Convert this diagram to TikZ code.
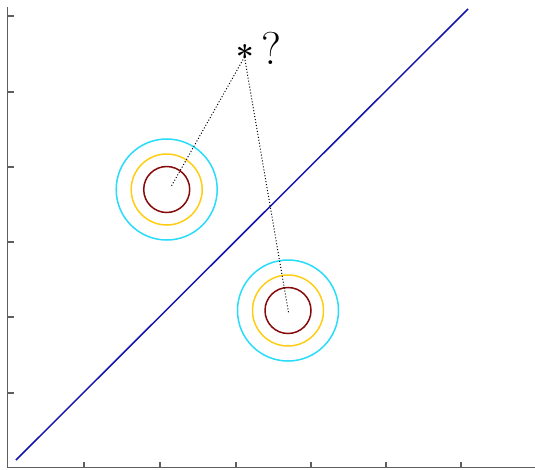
\documentclass[tikz,border=0pt]{standalone}
\usepackage{tikz}
\usetikzlibrary{positioning}
\definecolor{axisgrey}{RGB}{95,95,95}
\definecolor{lineblue}{RGB}{20,20,170}
\definecolor{ringcyan}{RGB}{40,220,250}
\definecolor{ringyellow}{RGB}{255,205,20}
\definecolor{ringred}{RGB}{135,10,10}

\begin{document}
\begin{tikzpicture}[
  x=1pt, y=-1pt,
  axis/.style={axisgrey, line width=1.5pt},
  sep/.style={lineblue, line width=1.5pt},
  ringA/.style={ringred, line width=1.5pt},
  ringB/.style={ringyellow, line width=1.5pt},
  ringC/.style={ringcyan, line width=1.5pt},
  link/.style={black, dotted, line width=1pt},
  querymark/.style={inner sep=0pt, font=\fontsize{32}{32}\selectfont\bfseries},
]
  \useasboundingbox (0,0) rectangle (535,469);

  % axes
  \draw[axis] (7.5,7) -- (7.5,467.5) -- (535,467.5);
  \foreach \yy in {16,92,167,242,317,393}
    \draw[axis] (7.5,\yy) -- ++(6,0);
  \foreach \xx in {84,160,236,311,386,461}
    \draw[axis] (\xx,467.5) -- ++(0,-6);

  % separating line
  \draw[sep] (16,460) -- (468,9);

  % two classes
  \coordinate (cA) at (166.7,189.5);
  \coordinate (cB) at (288,310.5);
  \foreach \c in {cA,cB} {
    \draw[ringC] (\c) circle (50.5);
    \draw[ringB] (\c) circle (35.5);
    \draw[ringA] (\c) circle (23);
  }

  % query point
  \node[querymark, anchor=north] (query) at (245,44) {*};
  \node[querymark, font=\fontsize{46}{46}\selectfont, anchor=base west] (ask) at (261,64) {?};
  \coordinate (qfoot) at (244.5,57);
  \coordinate (endA) at (170.7,187.3);
  \coordinate (endB) at (288.7,313.7);
  \draw[link] (qfoot) -- (endA);
  \draw[link] (qfoot) -- (endB);
\end{tikzpicture}
\end{document}
